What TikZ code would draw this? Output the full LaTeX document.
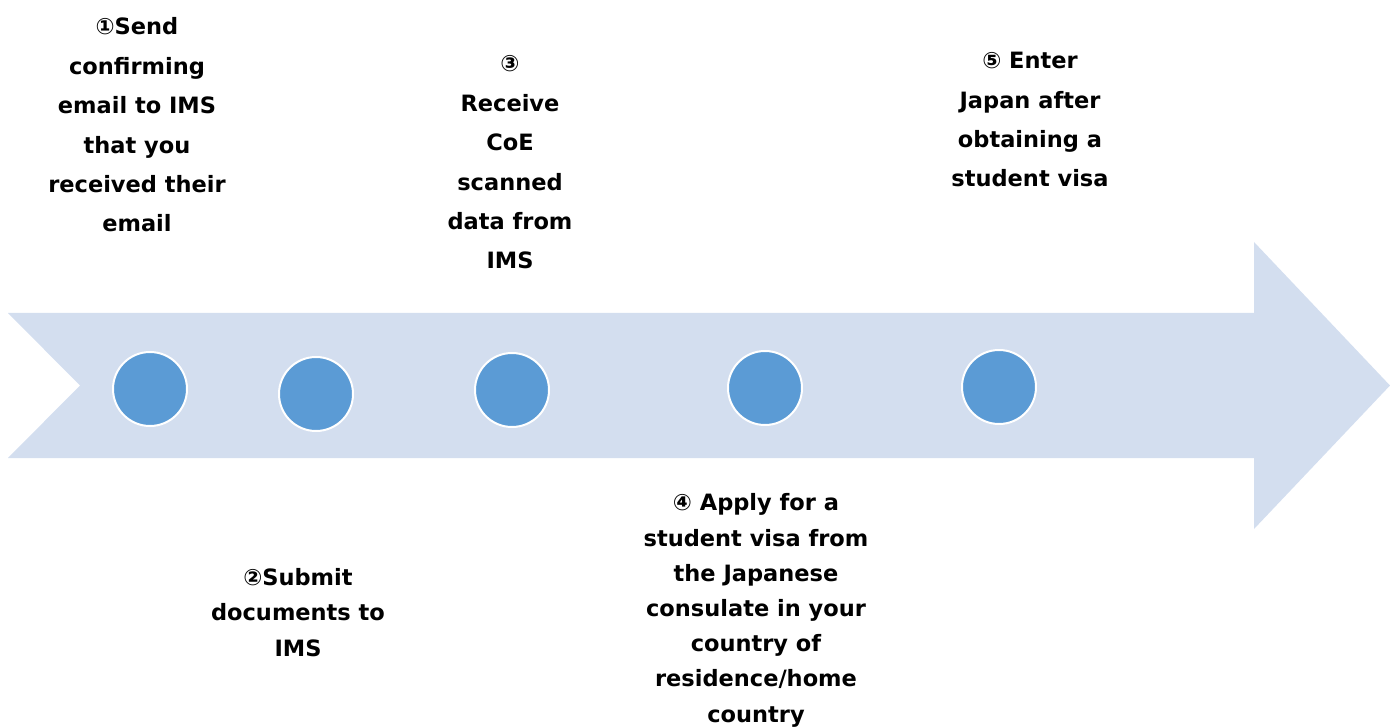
\documentclass[tikz,border=0pt]{standalone}
\usepackage{fontspec}
\setmainfont{DejaVu Sans}
\begin{document}
\begin{tikzpicture}[x=1pt,y=-1pt,
  arrowbody/.style={fill=arrowblue, draw=none},
  dot/.style={circle, fill=dotblue, draw=white, line width=2pt, minimum size=74pt, inner sep=0pt},
  uptext/.style={align=center, anchor=base, inner sep=0pt, font=\fontsize{22.5}{39.4}\selectfont\bfseries},
  lowtext/.style={align=center, anchor=base, inner sep=0pt, font=\fontsize{22.5}{35.2}\selectfont\bfseries}]
\definecolor{arrowblue}{HTML}{D3DEEF}
\definecolor{dotblue}{HTML}{5B9BD5}
\useasboundingbox (0,0) rectangle (1390,727);
\fill[arrowbody] (8,313) -- (1254,313) -- (1254,242) -- (1390,385.5) -- (1254,529) -- (1254,458) -- (8,458) -- (80,385.5) -- cycle;
\node[dot] (c1) at (150,389) {};
\node[dot] (c2) at (316,394) {};
\node[dot] (c3) at (512,390) {};
\node[dot] (c4) at (765,388) {};
\node[dot] (c5) at (999,387) {};
\node[uptext] (t1) at (137,232) {①Send\\confirming\\email to IMS\\that you\\received their\\email};
\node[uptext] (t3) at (510,269) {③\\Receive\\CoE\\scanned\\data from\\IMS};
\node[uptext] (t5) at (1030,187) {⑤ Enter\\Japan after\\obtaining a\\student visa};
\node[lowtext] (t2) at (298,656) {②Submit\\documents to\\IMS};
\node[lowtext] (t4) at (756,722) {④ Apply for a\\student visa from\\the Japanese\\consulate in your\\country of\\residence/home\\country};
\end{tikzpicture}
\end{document}
